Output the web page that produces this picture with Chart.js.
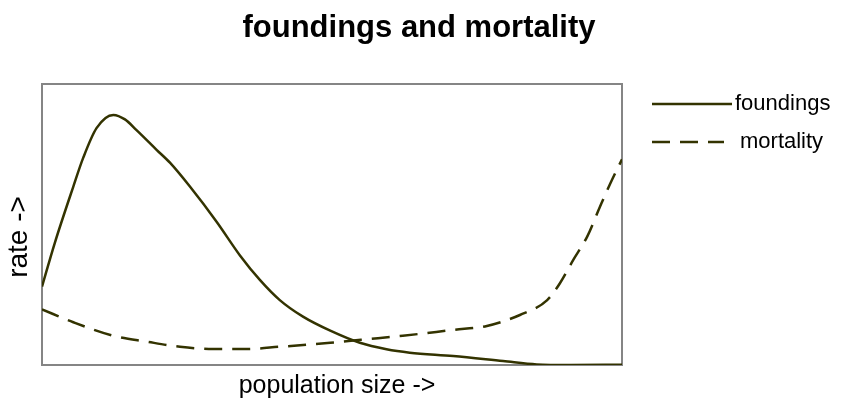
<!DOCTYPE html>
<html>
<head>
<meta charset="utf-8">
<script src="https://cdn.jsdelivr.net/npm/chart.js@4/dist/chart.umd.min.js"></script>
<style>
  html, body { margin: 0; padding: 0; background: #ffffff; }
  #wrap { width: 853px; height: 401px; position: relative; }
</style>
</head>
<body>
<div id="wrap"><canvas id="c" width="853" height="401"></canvas></div>
<script>
// ---- data (x = population size 0..100, y = rate 0..100) ----
const chartTitle = "foundings and mortality";
const xAxisLabel = "population size ->";
const yAxisLabel = "rate ->";
const seriesNames = ["foundings", "mortality"];

const foundingsX = [0, 2.2, 5.4, 7.1, 9.4, 12.3, 14.3, 16.3, 19.8, 22.1, 25.5, 30.1, 34.1, 37.6, 41.0, 45.0, 49.7, 54.8, 59.4, 63.4, 70.9, 79.5, 85.3, 91.0, 100];
const foundingsY = [27.9, 43.4, 63.5, 73.7, 84.3, 89.0, 87.4, 83.6, 76.5, 71.9, 63.5, 51.0, 39.1, 30.2, 23.1, 17.2, 12.2, 7.9, 5.6, 4.4, 3.2, 1.4, 0.2, 0.0, 0.1];

const mortalityX = [0, 5.4, 12.3, 18.1, 23.8, 29.5, 35.3, 41.0, 49.7, 55.0, 62.2, 70.9, 76.7, 82.4, 87.1, 89.3, 91.6, 94.0, 96.2, 98.0, 100];
const mortalityY = [19.8, 15.2, 10.4, 8.3, 6.5, 5.7, 5.7, 6.5, 7.9, 9.0, 10.4, 12.5, 13.9, 17.8, 23.1, 29.1, 37.4, 45.7, 56.3, 64.7, 73.2];

const LINE_COLOR = "#333300";
const FONT = "'Liberation Sans', Arial, sans-serif";

const toPoints = (xs, ys) => xs.map((x, i) => ({ x: x, y: ys[i] }));

// custom drawing: plot frame, title, axis titles, legend
const decorPlugin = {
  id: 'decor',
  beforeDatasetsDraw(chart) {
    const { ctx, chartArea: a } = chart;
    ctx.save();
    ctx.strokeStyle = '#858585';
    ctx.lineWidth = 2;
    ctx.strokeRect(a.left, a.top, a.right - a.left, a.bottom - a.top);
    ctx.restore();
  },
  afterDraw(chart) {
    const { ctx } = chart;
    ctx.save();
    ctx.fillStyle = '#000000';
    // chart title
    ctx.font = 'bold 31px ' + FONT;
    ctx.textAlign = 'center';
    ctx.textBaseline = 'alphabetic';
    ctx.fillText(chartTitle, 419, 37);
    // x axis title
    ctx.font = '25px ' + FONT;
    ctx.fillText(xAxisLabel, 337, 393);
    // y axis title (rotated)
    ctx.save();
    ctx.translate(27, 237);
    ctx.rotate(-Math.PI / 2);
    ctx.font = '28px ' + FONT;
    ctx.textAlign = 'center';
    ctx.textBaseline = 'alphabetic';
    ctx.fillText(yAxisLabel, 0, 0);
    ctx.restore();
    // legend
    const items = chart.data.datasets;
    const rows = [{ y: 104, textX: 735, end: 732 }, { y: 142, textX: 740, end: 724 }];
    items.forEach((ds, i) => {
      const r = rows[i];
      ctx.save();
      ctx.strokeStyle = ds.borderColor;
      ctx.lineWidth = ds.borderWidth;
      ctx.setLineDash(ds.borderDash || []);
      ctx.beginPath();
      ctx.moveTo(652, r.y);
      ctx.lineTo(r.end, r.y);
      ctx.stroke();
      ctx.restore();
      ctx.font = '22px ' + FONT;
      ctx.textAlign = 'left';
      ctx.textBaseline = 'middle';
      ctx.fillStyle = '#000000';
      ctx.fillText(ds.label, r.textX, r.y);
    });
    ctx.restore();
  }
};

new Chart(document.getElementById('c'), {
  type: 'line',
  data: {
    datasets: [
      {
        label: seriesNames[0],
        data: toPoints(foundingsX, foundingsY),
        borderColor: LINE_COLOR,
        borderWidth: 2.5,
        pointRadius: 0,
        cubicInterpolationMode: 'monotone',
        fill: false
      },
      {
        label: seriesNames[1],
        data: toPoints(mortalityX, mortalityY),
        borderColor: LINE_COLOR,
        borderWidth: 2.5,
        borderDash: [18, 10],
        pointRadius: 0,
        cubicInterpolationMode: 'monotone',
        fill: false
      }
    ]
  },
  options: {
    responsive: false,
    animation: false,
    devicePixelRatio: 1,
    layout: { padding: { left: 42, right: 231, top: 84, bottom: 36 } },
    scales: {
      x: { type: 'linear', min: 0, max: 100, display: false },
      y: { type: 'linear', min: 0, max: 100, display: false }
    },
    plugins: {
      legend: { display: false },
      tooltip: { enabled: false },
      title: { display: false }
    }
  },
  plugins: [decorPlugin]
});
</script>
</body>
</html>
